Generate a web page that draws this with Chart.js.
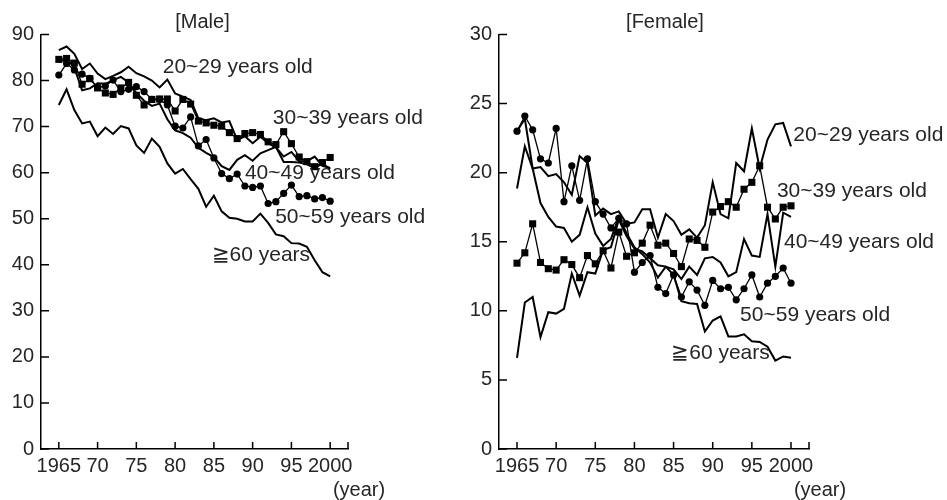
<!DOCTYPE html>
<html><head><meta charset="utf-8">
<script src="https://cdn.jsdelivr.net/npm/chart.js@4.4.0/dist/chart.umd.min.js"></script>
<style>
html,body{margin:0;padding:0;background:#fff;width:947px;height:500px;overflow:hidden}
.panel{position:absolute;top:0;height:500px}
#male{left:0;width:440px}
#female{left:458px;width:489px}
</style></head><body>
<div class="panel" id="male"><canvas id="cm"></canvas></div>
<div class="panel" id="female"><canvas id="cf"></canvas></div>
<script>
const years = [1965,1966,1967,1968,1969,1970,1971,1972,1973,1974,1975,1976,1977,1978,1979,1980,1981,1982,1983,1984,1985,1986,1987,1988,1989,1990,1991,1992,1993,1994,1995,1996,1997,1998,1999,2000];
const xTickValues = [1965,1970,1975,1980,1985,1990,1995,2000];
const xTickLabels = ['1965','70','75','80','85','90','95','2000'];
const seriesNames = ['20~29 years old','30~39 years old','40~49 years old','50~59 years old','≧60 years'];
const panelTitles = ['[Male]','[Female]'];

const male2029 = [86.6,87.4,85.8,82.5,83.7,81.5,80.3,81.0,81.8,83.0,81.6,80.9,80.0,78.5,80.2,77.2,76.5,75.8,71.8,71.4,71.8,70.9,71.2,67.1,67.9,66.4,67.8,66.4,65.5,63.5,64.5,62.5,62.5,63.5,61.5,61.0];
const male3039 = [84.6,84.8,83.8,79.2,80.4,78.4,77.3,77.0,78.4,79.6,76.8,74.7,75.9,76.0,76.0,73.4,75.9,74.9,71.2,70.8,70.3,70.1,68.7,67.4,68.5,68.7,68.3,66.7,66.1,68.9,66.3,63.4,62.4,61.3,62.2,63.3];
const male4049 = [84.0,84.8,82.8,77.9,78.3,79.4,79.3,80.1,80.8,79.6,77.3,75.6,74.5,75.0,71.6,69.2,68.6,67.6,65.4,64.3,63.4,61.4,60.6,62.8,63.8,62.6,64.2,64.9,65.6,62.3,62.3,62.2,61.8,61.0,62.0,60.8];
const male5059 = [81.2,83.7,82.3,81.4,80.5,78.5,78.8,80.1,77.6,78.1,78.7,77.6,75.9,75.9,74.7,70.1,69.7,72.1,65.8,67.2,63.2,59.8,58.7,59.7,57.1,56.8,57.1,53.3,53.7,55.5,57.3,54.8,55.0,54.3,54.6,53.8];
const male60 = [74.7,78.1,73.6,70.7,71.1,67.9,69.8,68.4,70.1,69.6,65.9,64.3,67.4,65.6,62.0,59.8,60.8,58.6,56.5,52.6,55.0,51.6,50.2,50.0,49.4,49.4,51.1,49.1,46.6,46.2,44.7,44.6,43.9,41.0,38.4,37.5];

const female2029 = [18.85,21.9,20.3,20.4,19.75,19.9,19.3,18.4,21.2,20.7,16.9,17.4,17.0,17.2,16.3,16.4,17.35,17.35,15.3,17.0,16.5,15.5,15.9,15.3,16.2,19.3,17.0,16.7,20.7,20.1,23.2,20.3,22.4,23.5,23.6,21.9];
const female3039 = [13.45,14.2,16.3,13.5,13.05,12.95,13.7,13.35,12.4,14.0,13.4,14.35,13.1,15.7,13.95,14.2,14.9,16.2,14.75,14.9,14.15,13.2,15.2,15.1,14.6,17.15,17.55,17.9,17.5,18.8,19.3,20.5,17.5,16.65,17.5,17.6];
const female4049 = [23.0,23.9,20.3,17.8,16.8,16.1,16.0,15.0,15.5,17.5,15.6,14.7,15.2,16.8,15.6,14.6,14.1,13.5,12.4,13.2,13.0,12.3,13.2,12.6,13.8,13.9,13.5,12.5,12.8,15.2,14.0,13.9,17.0,13.2,17.1,16.8];
const female5059 = [23.0,24.1,23.1,21.0,20.7,23.2,17.9,20.5,18.0,21.0,17.9,17.0,16.0,16.7,16.3,12.8,13.5,14.0,11.7,11.25,12.6,11.0,12.1,11.5,10.4,12.2,11.6,11.7,10.8,11.6,12.6,11.0,12.0,12.5,13.1,12.0];
const female60 = [6.6,10.6,11.0,8.1,9.9,9.8,10.15,12.7,11.1,12.8,12.7,14.4,14.6,16.6,15.4,14.5,14.3,13.8,13.3,13.2,12.6,10.7,10.55,10.5,8.5,9.3,9.6,8.15,8.15,8.3,7.8,7.75,7.4,6.4,6.7,6.6];

const FONT = '"Liberation Sans", Arial, Helvetica, sans-serif';
const TXT = '#262626';

const decor = {
  id: 'decor',
  afterDraw(chart, args, opts) {
    const {ctx, chartArea: a, scales: {x, y}} = chart;
    ctx.save();
    ctx.strokeStyle = '#000'; ctx.lineWidth = 1.5;
    ctx.beginPath();
    x.ticks.forEach(t => { const px = x.getPixelForValue(t.value); ctx.moveTo(px, a.bottom); ctx.lineTo(px, a.bottom - 7); });
    ctx.moveTo(a.right, a.bottom); ctx.lineTo(a.right, a.bottom - 7);
    y.ticks.forEach(t => { const py = y.getPixelForValue(t.value); ctx.moveTo(a.left, py); ctx.lineTo(a.left + 8, py); });
    ctx.stroke();
    ctx.fillStyle = TXT;
    ctx.font = '21px ' + FONT;
    ctx.textBaseline = 'middle'; ctx.textAlign = 'left';
    opts.labels.forEach(l => ctx.fillText(l.text, x.getPixelForValue(l.x), y.getPixelForValue(l.y)));
    ctx.font = '20px ' + FONT;
    ctx.textAlign = 'center';
    ctx.fillText(opts.title, (a.left + a.right) / 2 + opts.titleDx, a.top - 12);
    ctx.fillText('(year)', a.right + 11, a.bottom + 41);
    ctx.restore();
  }
};

function pts(arr) { return arr.map((v, i) => ({x: years[i], y: v})); }

function makeChart(id, series, yMax, yStep, rightPad, title, titleDx, labels) {
  const styles = [
    {borderWidth: 2, pointRadius: 0},
    {borderWidth: 1.3, pointRadius: 5, pointStyle: 'rect'},
    {borderWidth: 2, pointRadius: 0},
    {borderWidth: 1.3, pointRadius: 3.6, pointStyle: 'circle'},
    {borderWidth: 2, pointRadius: 0}
  ];
  return new Chart(document.getElementById(id), {
    type: 'line',
    data: {
      datasets: series.map((s, i) => Object.assign({
        label: seriesNames[i], data: pts(s), borderColor: '#000', backgroundColor: '#000',
        pointBackgroundColor: '#000', pointBorderColor: '#000', pointBorderWidth: 0,
        tension: 0, fill: false, clip: false
      }, styles[i]))
    },
    options: {
      responsive: true, maintainAspectRatio: false, animation: false,
      layout: {padding: {top: 34.5, right: rightPad, left: 0, bottom: 0}},
      plugins: {legend: {display: false}, tooltip: {enabled: false},
        decor: {title: title, titleDx: titleDx, labels: labels}},
      scales: {
        x: {
          type: 'linear', min: 1962.7, max: 2002.3,
          afterBuildTicks: s => { s.ticks = xTickValues.map(v => ({value: v})); },
          afterFit: s => { s.height = 51; },
          ticks: {autoSkip: false, maxRotation: 0, minRotation: 0, padding: 5, color: TXT,
            font: {size: 20, family: FONT}, callback: (v, i) => xTickLabels[i]},
          grid: {display: true, drawOnChartArea: false, drawTicks: false},
          border: {display: true, color: '#000', width: 1.5}
        },
        y: {
          min: 0, max: yMax,
          afterFit: s => { s.width = 41; },
          ticks: {stepSize: yStep, padding: 7, color: TXT, font: {size: 20, family: FONT}},
          grid: {display: true, drawOnChartArea: false, drawTicks: false},
          border: {display: true, color: '#000', width: 1.5}
        }
      }
    },
    plugins: [decor]
  });
}

makeChart('cm', [male2029, male3039, male4049, male5059, male60], 90, 10, 92, panelTitles[0], 8, [
  {text: seriesNames[0], x: 1978.4, y: 82.9},
  {text: seriesNames[1], x: 1992.6, y: 71.8},
  {text: seriesNames[2], x: 1989.0, y: 59.9},
  {text: seriesNames[3], x: 1992.9, y: 50.3},
  {text: seriesNames[4], x: 1984.7, y: 42.1}
]);
makeChart('cf', [female2029, female3039, female4049, female5059, female60], 30, 5, 138, panelTitles[1], 11, [
  {text: seriesNames[0], x: 2000.3, y: 22.7},
  {text: seriesNames[1], x: 1998.2, y: 18.65},
  {text: seriesNames[2], x: 1999.1, y: 14.95},
  {text: seriesNames[3], x: 1993.5, y: 9.65},
  {text: seriesNames[4], x: 1984.7, y: 6.9}
]);
</script>
</body></html>
